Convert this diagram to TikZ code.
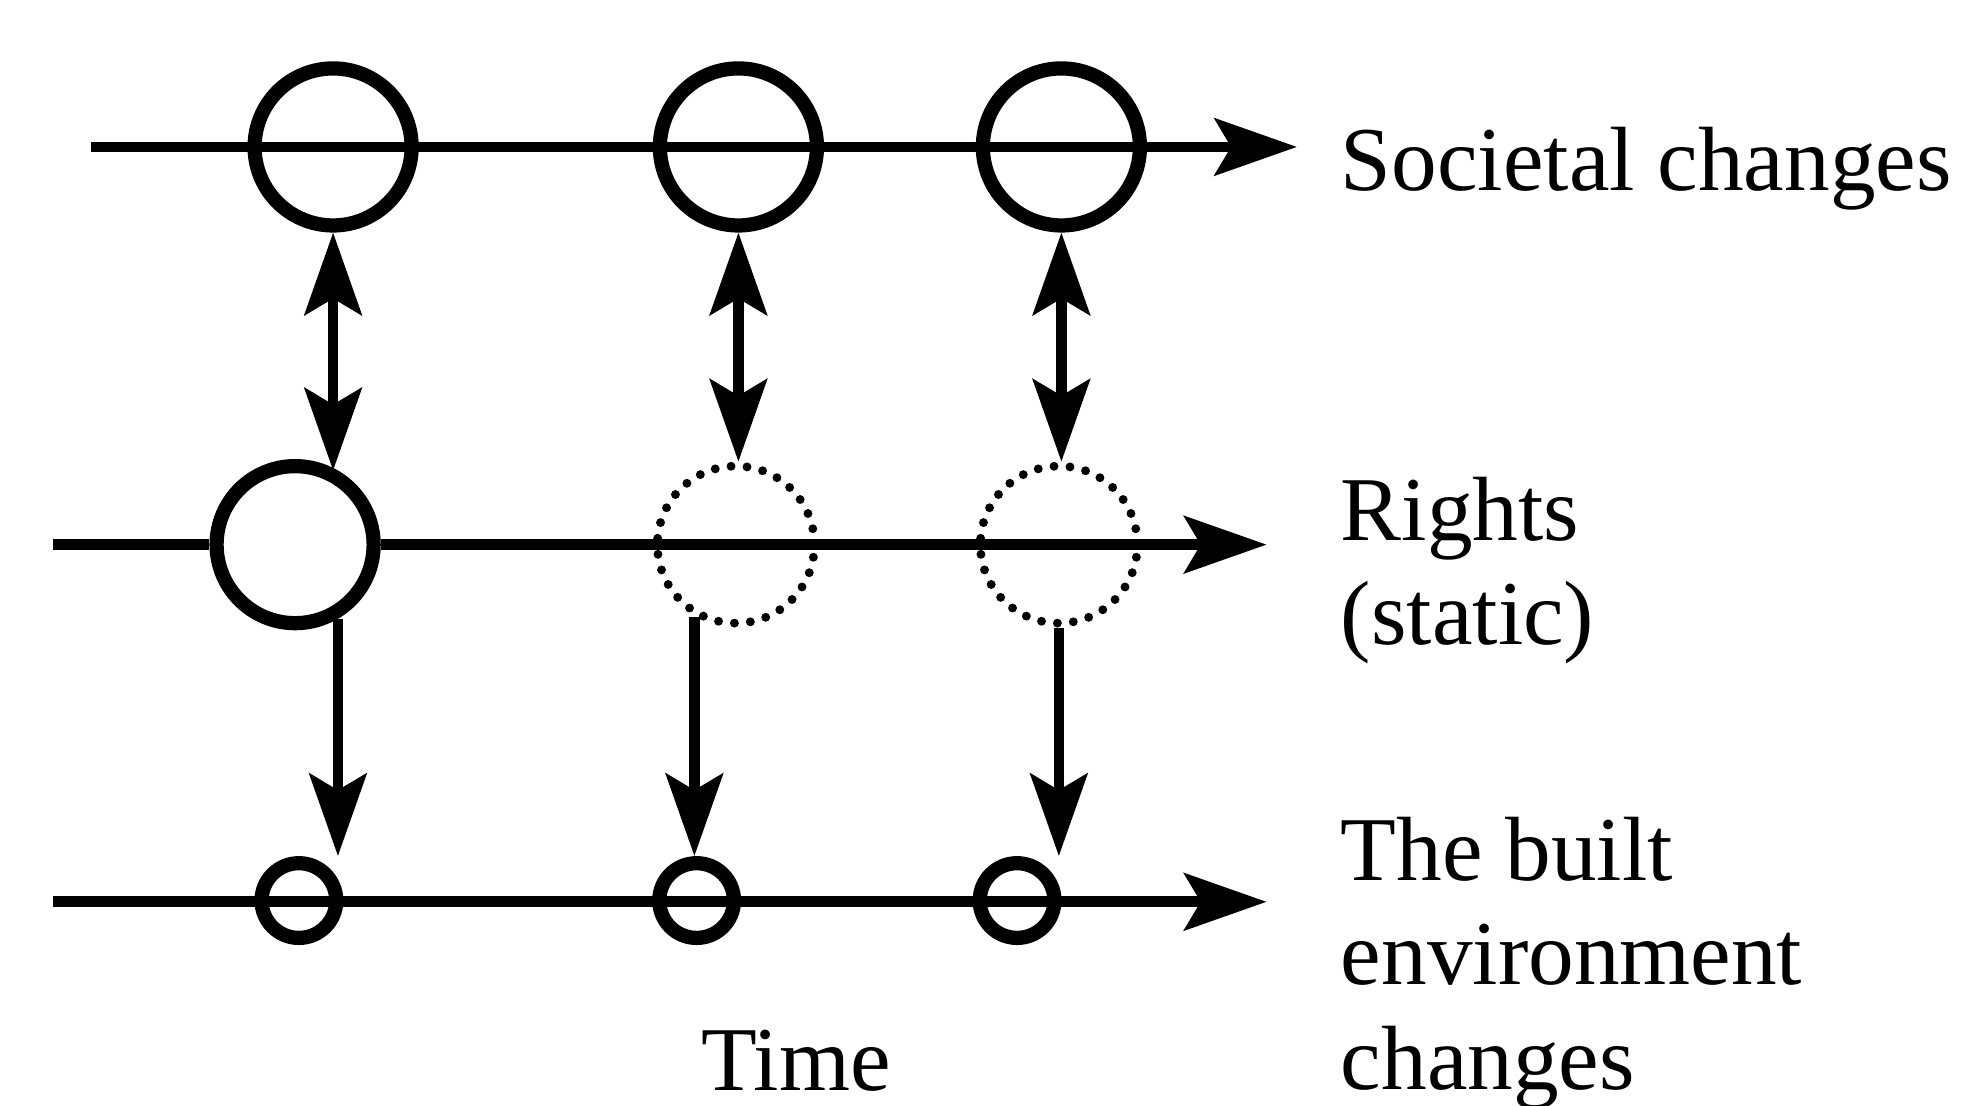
\documentclass[tikz,border=0pt]{standalone}
\usepackage{fontspec}
\setmainfont{Liberation Serif}
\usetikzlibrary{arrows.meta,positioning,calc}

\begin{document}
\begin{tikzpicture}[x=0.1mm,y=-0.1mm,
  bigtip/.tip={Stealth[length=6.5mm,width=4.5mm,inset=1.3mm]},
  ring/.style={circle,draw,line width=3.2pt,minimum size=12.4mm,inner sep=0pt},
  smallring/.style={circle,draw,line width=3.2pt,minimum size=5.9mm,inner sep=0pt},
  dotring/.style={circle,draw,line width=2pt,line cap=round,dash pattern=on 0pt off 3.6pt,minimum size=12.4mm,inner sep=0pt},
  axis/.style={line width=2.4pt},
  lbl/.style={anchor=base west,align=left,inner sep=0pt,font=\fontsize{20.5}{23.5}\selectfont}]
  \useasboundingbox (0,0) rectangle (1568,873);
  % circles on the three time lines
  \node[ring] (soc1) at (263,116) {};
  \node[ring] (soc2) at (583,116) {};
  \node[ring] (soc3) at (838,116) {};
  \node[ring] (rig1) at (233,430) {};
  \node[dotring] (rig2) at (581,430) {};
  \node[dotring] (rig3) at (836,430) {};
  \node[smallring] (env1) at (236,711) {};
  \node[smallring] (env2) at (550,711) {};
  \node[smallring] (env3) at (803,711) {};
  \coordinate (socstart) at (72,116);
  \coordinate (socend) at (1024,116);
  \coordinate (rigstart) at (42,430);
  \coordinate (rigend) at (1000,430);
  \coordinate (envstart) at (42,712);
  \coordinate (envend) at (1000,712);
  % time lines
  \draw[axis,-bigtip] (socstart)--(socend);
  \draw[axis] (rigstart)--(rig1.west);
  \draw[axis,-bigtip] (rig1.east)--(rigend);
  \draw[axis,-bigtip] (envstart)--(envend);
  % links between the lines
  \draw[axis,bigtip-bigtip] (soc1.south)--(soc1.south |- rig1.60);
  \draw[axis,bigtip-bigtip] (soc2.south)--(soc2.south |- rig2.north);
  \draw[axis,bigtip-bigtip] (soc3.south)--(soc3.south |- rig3.north);
  \draw[axis,-bigtip] (rig1.-60)--(rig1.-60 |- env1.north);
  \draw[axis,-bigtip] (rig2.240)--(rig2.240 |- env2.north);
  \draw[axis,-bigtip] (rig3.south)--(rig3.south |- env3.north);
  % labels (base = last line)
  \node[lbl] (soclbl) at (1058,150) {Societal changes};
  \node[lbl] (riglbl) at (1058,509) {Rights\\(static)};
  \node[lbl] (envlbl) at (1058,860) {The built\\environment\\changes};
  \node[lbl] (timelbl) at (553,861) {Time};
\end{tikzpicture}
\end{document}
